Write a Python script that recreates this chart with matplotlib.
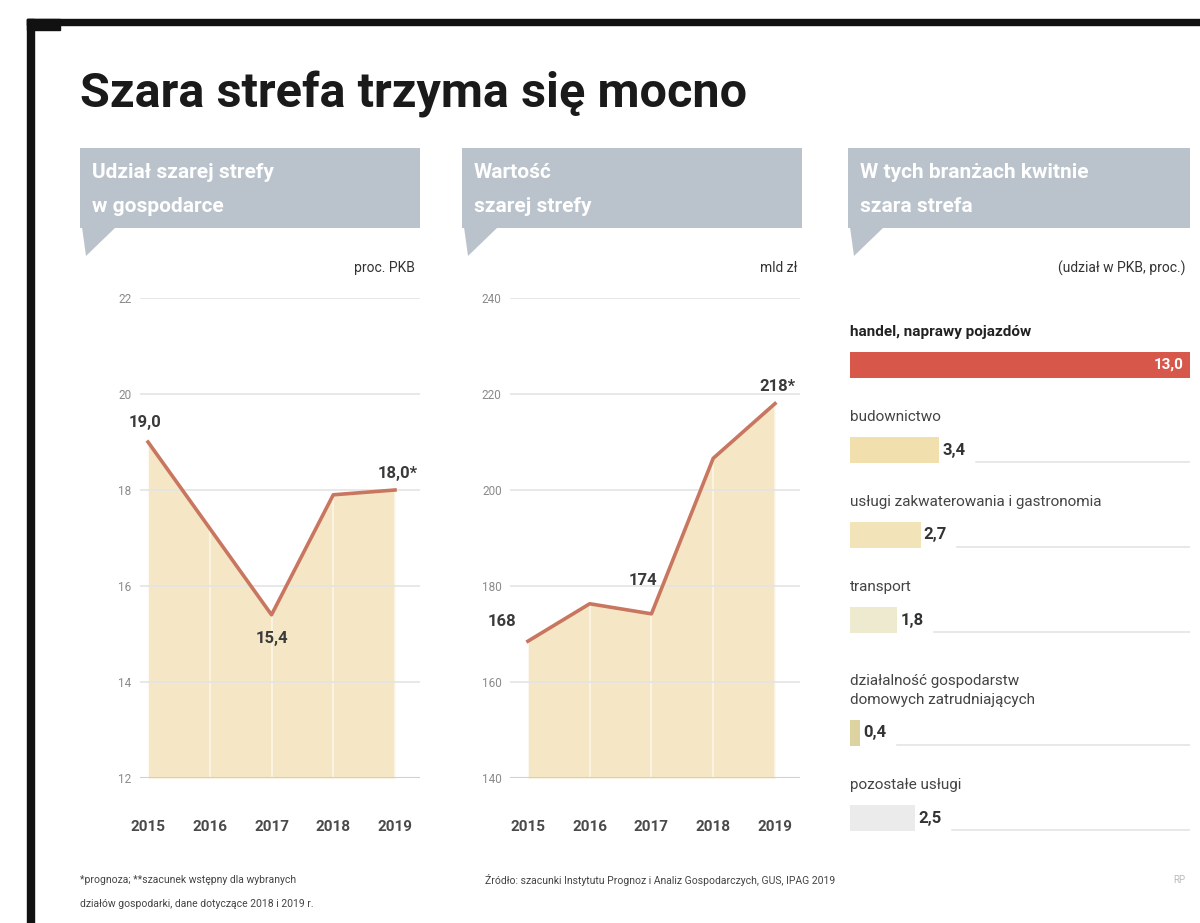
import matplotlib
matplotlib.use("Agg")
import matplotlib.pyplot as plt
from matplotlib.patches import Rectangle, Polygon
from matplotlib import font_manager

W, H = 1200, 923

# --- data -------------------------------------------------------------
title = "Szara strefa trzyma się mocno"

p1_head = ["Udział szarej strefy", "w gospodarce"]
p1_unit = "proc. PKB"
p1_years = ["2015", "2016", "2017", "2018", "2019"]
p1_vals = [19.0, 17.2, 15.4, 17.9, 18.0]
p1_labels = {0: "19,0", 2: "15,4", 4: "18,0*"}
p1_ticks = [12, 14, 16, 18, 20, 22]

p2_head = ["Wartość", "szarej strefy"]
p2_unit = "mld zł"
p2_years = ["2015", "2016", "2017", "2018", "2019"]
p2_vals = [168.5, 176.3, 174.2, 206.6, 218.0]
p2_labels = {0: "168", 2: "174", 4: "218*"}
p2_ticks = [140, 160, 180, 200, 220, 240]

p3_head = ["W tych branżach kwitnie", "szara strefa"]
p3_unit = "(udział w PKB, proc.)"
p3_cats = ["handel, naprawy pojazdów",
           "budownictwo",
           "usługi zakwaterowania i gastronomia",
           "transport",
           "działalność gospodarstw\ndomowych zatrudniających",
           "pozostałe usługi"]
p3_vals = [13.0, 3.4, 2.7, 1.8, 0.4, 2.5]

note_left = ["*prognoza; **szacunek wstępny dla wybranych",
             "działów gospodarki, dane dotyczące 2018 i 2019 r."]
note_right = "Źródło: szacunki Instytutu Prognoz i Analiz Gospodarczych, GUS, IPAG 2019"

# --- style ------------------------------------------------------------
names = {f.name for f in font_manager.fontManager.ttflist}
narrow = "Liberation Sans Narrow" if "Liberation Sans Narrow" in names else "Roboto"
plt.rcParams["font.family"] = [narrow, "DejaVu Sans"]

HEAD_GRAY = "#bac3cb"
FILL = "#f5e7c6"
LINE = "#c97660"
RED = "#d8574b"
BAR_COLORS = [RED, "#f1e0ad", "#f2e4b8", "#eeeacf", "#dcd3a0", "#ecebec"]
GRID = "#e4e4e4"
TXT = "#333333"


def rect(x0, y0, x1, y1):
    return [x0 / W, 1 - y1 / H, (x1 - x0) / W, (y1 - y0) / H]


fig = plt.figure(figsize=(12, 9.23), dpi=100)

# overlay for frame, headers, notes (pixel coordinates)
bg = fig.add_axes([0, 0, 1, 1])
bg.set_xlim(0, W)
bg.set_ylim(H, 0)
bg.axis("off")
bg.add_patch(Rectangle((27, 19), W - 27, 6, color="#111111"))
bg.add_patch(Rectangle((27, 19), 33, 11, color="#111111"))
bg.add_patch(Rectangle((27, 19), 7, H - 19, color="#111111"))

bg.text(80, 95, title, fontsize=35, fontweight="bold", color="#1a1a1a",
        va="center", ha="left")

for x0, x1, head, unit in [(80, 420, p1_head, p1_unit),
                           (462, 802, p2_head, p2_unit),
                           (848, 1190, p3_head, p3_unit)]:
    bg.add_patch(Rectangle((x0, 148), x1 - x0, 80, color=HEAD_GRAY, lw=0))
    bg.add_patch(Polygon([(x0 + 2, 227), (x0 + 36, 227), (x0 + 6, 256)],
                         closed=True, color=HEAD_GRAY, lw=0))
    bg.text(x0 + 12, 172, head[0], fontsize=15, fontweight="bold",
            color="white", va="center")
    bg.text(x0 + 12, 206, head[1], fontsize=15, fontweight="bold",
            color="white", va="center")
    bg.text(x1 - 5, 268, unit, fontsize=10, color=TXT, ha="right", va="center")

bg.text(80, 880, note_left[0], fontsize=7.5, color="#444444", va="center")
bg.text(80, 904, note_left[1], fontsize=7.5, color="#444444", va="center")
bg.text(485, 880, note_right, fontsize=7.5, color="#444444", va="center")
bg.text(1185, 880, "RP", fontsize=7, color="#bbbbbb", ha="right", va="center")


def line_panel(box, years, vals, ticks, labels, offsets, xleft):
    ax = fig.add_axes(rect(*box))
    x = list(range(len(vals)))
    ax.fill_between(x, ticks[0], vals, color=FILL, lw=0, zorder=1)
    for xi, v in zip(x, vals):
        ax.plot([xi, xi], [ticks[0], v], color="white", lw=1.2, alpha=0.6, zorder=2)
    ax.plot(x, vals, color=LINE, lw=2.6, zorder=4, solid_joinstyle="round")
    ax.set_xlim(xleft, len(vals) - 1 + 0.405)
    ax.set_ylim(ticks[0], ticks[-1])
    ax.set_yticks(ticks)
    ax.set_yticklabels([str(t) for t in ticks], fontsize=8.5, color="#8a8a8a")
    ax.set_xticks(x)
    ax.set_xticklabels(years, fontsize=11, fontweight="bold", color="#4a4a4a")
    ax.tick_params(length=0)
    ax.tick_params(axis="x", pad=30)
    ax.tick_params(axis="y", pad=6)
    ax.grid(axis="y", color=GRID, lw=1.2, zorder=3)
    ax.set_axisbelow(False)
    for s in ax.spines.values():
        s.set_visible(False)
    ax.axhline(ticks[0], color="#d6d0c2", lw=1.5, zorder=5)
    for i, txt in labels.items():
        dx, dy, ha = offsets[i]
        ax.annotate(txt, (x[i], vals[i]), xytext=(dx, dy), textcoords="offset points",
                    fontsize=12, fontweight="bold", color="#3a3a3a", ha=ha,
                    va="center", zorder=6)
    ax.patch.set_alpha(0)
    return ax


line_panel((140, 298, 420, 778), p1_years, p1_vals, p1_ticks, p1_labels,
           {0: (-2, 14, "center"), 2: (0, -17, "center"), 4: (2, 12, "center")},
           -0.13)
line_panel((510, 298, 800, 778), p2_years, p2_vals, p2_ticks, p2_labels,
           {0: (-8, 14, "right"), 2: (-6, 24, "center"), 4: (2, 12, "center")},
           -0.29)

# panel 3: horizontal bars, axes measured in pixel rows
ax3 = fig.add_axes(rect(850, 300, 1190, 850))
ax3.set_xlim(0, max(p3_vals))
ax3.set_ylim(850, 300)
ax3.axis("off")
ypos = []
y = 365
for cat in p3_cats:
    n = cat.count("\n")
    y += 28 * n
    ypos.append(y)
    y += 85
ax3.barh(ypos, p3_vals, height=26, color=BAR_COLORS, lw=0, zorder=2)
for i, (cat, v, yc) in enumerate(zip(p3_cats, p3_vals, ypos)):
    ax3.text(0, yc - 26, cat, fontsize=11, fontweight="bold" if i == 0 else "normal",
             color="#222222" if i == 0 else "#444444", va="bottom", linespacing=1.5)
    lab = f"{v:.1f}".replace(".", ",")
    if i == 0:
        ax3.text(v - 0.25, yc, lab, fontsize=11, fontweight="bold", color="white",
                 ha="right", va="center", zorder=3)
    else:
        ax3.text(v + 0.12, yc, lab, fontsize=12, fontweight="bold", color="#333333",
                 ha="left", va="center", zorder=3)
        ax3.plot([v + 1.4, max(p3_vals)], [yc + 12, yc + 12], color=GRID, lw=1.2, zorder=1)

fig.savefig("out.png", dpi=100)
